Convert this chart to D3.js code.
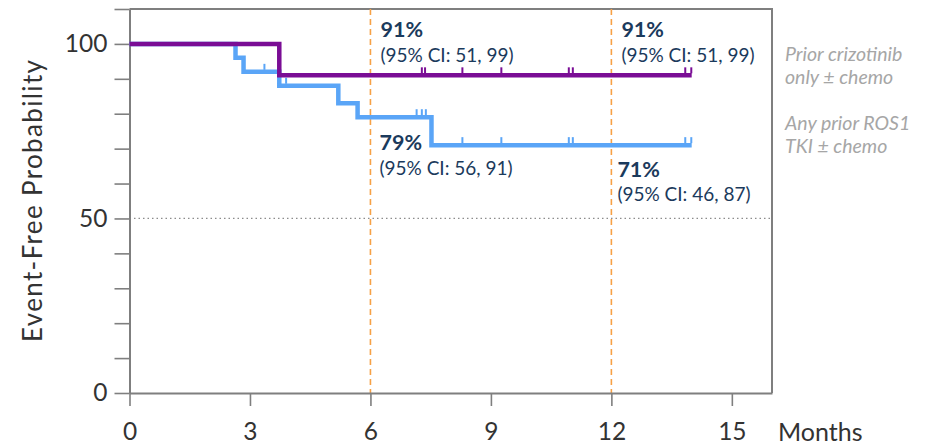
<!DOCTYPE html>
<html>
<head>
<meta charset="utf-8">
<script src="https://cdn.jsdelivr.net/npm/d3@7"></script>
<style>
  html, body { margin: 0; padding: 0; background: #fff; }
  svg { display: block; font-family: Lato, "Open Sans", sans-serif; }
</style>
</head>
<body>
<svg id="chart" width="935" height="447"></svg>
<script>
// Kaplan–Meier steps: [month, event-free %]
const crizotinibSteps = [[0, 100], [3.73, 91]];
const anyTkiSteps = [[0, 100], [2.64, 96], [2.84, 92], [3.73, 88], [5.2, 83], [5.68, 79], [7.52, 71]];
const followUpEnd = 14;

// Censoring marks (months)
const crizotinibCensors = [7.28, 7.36, 8.29, 9.26, 10.94, 11.04, 13.84, 13.99];
const anyTkiCensors = [3.36, 3.9, 7.15, 7.28, 7.38, 8.29, 9.26, 10.94, 11.04, 13.84, 13.99];

// Axis ticks
const xTicks = [0, 3, 6, 9, 12, 15];
const yMinorTicks = [0, 10, 20, 30, 40, 50, 60, 70, 80, 90, 100, 110];
const yLabelTicks = [0, 50, 100];
const landmarkMonths = [6, 12];

// Landmark estimates
const landmarkLabels = [
  { month: 6, series: "criz", pct: "91%", ci: "(95% CI: 51, 99)" },
  { month: 12, series: "criz", pct: "91%", ci: "(95% CI: 51, 99)" },
  { month: 6, series: "any", pct: "79%", ci: "(95% CI: 56, 91)" },
  { month: 12, series: "any", pct: "71%", ci: "(95% CI: 46, 87)" }
];
const legendCriz = ["Prior crizotinib", "only \u00b1 chemo"];
const legendAny = ["Any prior ROS1", "TKI \u00b1 chemo"];

const colors = { criz: "#7a0d95", any: "#5aa5f7", axis: "#7f7f7f", text: "#1b3a5c", orange: "#f7a146", legend: "#a6a6a6" };

const svg = d3.select("#chart");
const x = d3.scaleLinear().domain([0, 16]).range([129.5, 772]);
const y = d3.scaleLinear().domain([0, 110]).range([393, 9]);

// Frame (top and right)
svg.append("path")
  .attr("d", `M${x(0)},${y(110)}H${x(16)}V${y(0)}`)
  .attr("fill", "none").attr("stroke", colors.axis).attr("stroke-width", 2);

// 50% reference line
svg.append("line")
  .attr("x1", x(0)).attr("x2", x(16)).attr("y1", y(50)).attr("y2", y(50))
  .attr("stroke", "#8c8c8c").attr("stroke-width", 1.2).attr("stroke-dasharray", "1.5,3");

// Landmark verticals
svg.selectAll(".landmark").data(landmarkMonths).join("line")
  .attr("x1", d => x(d)).attr("x2", d => x(d))
  .attr("y1", y(110)).attr("y2", y(0))
  .attr("stroke", colors.orange).attr("stroke-width", 1.6).attr("stroke-dasharray", "6,4");

// Axes
const xAxis = svg.append("g").attr("transform", `translate(0,${y(0)})`)
  .call(d3.axisBottom(x).tickValues(xTicks).tickSize(13).tickSizeOuter(0).tickPadding(17));
const yAxis = svg.append("g").attr("transform", `translate(${x(0)},0)`)
  .call(d3.axisLeft(y).tickValues(yMinorTicks).tickSize(15).tickSizeOuter(0).tickPadding(7)
    .tickFormat(d => yLabelTicks.includes(d) ? d : ""));
[xAxis, yAxis].forEach(g => {
  g.select(".domain").attr("stroke", colors.axis).attr("stroke-width", 2);
  g.selectAll(".tick line").attr("stroke", colors.axis).attr("stroke-width", 1.6);
  g.selectAll(".tick text").attr("fill", "#333").attr("font-size", 24.5).attr("font-family", "Lato, sans-serif");
});
xAxis.selectAll(".tick text").attr("dy", "0.71em");

svg.append("text").attr("x", 778).attr("y", 441)
  .attr("font-size", 25).attr("fill", "#333").text("Months");

svg.append("text")
  .attr("transform", `translate(42,201) rotate(-90)`)
  .attr("text-anchor", "middle").attr("font-size", 26).attr("fill", "#333")
  .attr("textLength", 282).attr("lengthAdjust", "spacing")
  .text("Event-Free Probability");

// Curves
const stepLine = d3.line().x(d => x(d[0])).y(d => y(d[1])).curve(d3.curveStepAfter);
function curvePoints(steps) {
  return steps.concat([[followUpEnd, steps[steps.length - 1][1]]]);
}
function valueAt(steps, t) {
  let v = steps[0][1];
  steps.forEach(s => { if (s[0] <= t) v = s[1]; });
  return v;
}
function drawCurve(steps, censors, color) {
  svg.append("path").datum(curvePoints(steps))
    .attr("d", stepLine).attr("fill", "none")
    .attr("stroke", color).attr("stroke-width", 4.5).attr("stroke-linejoin", "miter");
  svg.append("g").selectAll("line").data(censors).join("line")
    .attr("x1", d => x(d)).attr("x2", d => x(d))
    .attr("y1", d => y(valueAt(steps, d)) - 2).attr("y2", d => y(valueAt(steps, d)) - 8)
    .attr("stroke", color).attr("stroke-width", 2);
}
drawCurve(anyTkiSteps, anyTkiCensors, colors.any);
drawCurve(crizotinibSteps, crizotinibCensors, colors.criz);

// Landmark annotations
const labelPos = {
  "criz-6": { dx: 10, py: 37, cy: 62 },
  "criz-12": { dx: 10, py: 37, cy: 62 },
  "any-6": { dx: 9, py: 150, cy: 175 },
  "any-12": { dx: 6, py: 177, cy: 201 }
};
landmarkLabels.forEach(l => {
  const p = labelPos[`${l.series}-${l.month}`];
  svg.append("text").attr("x", x(l.month) + p.dx).attr("y", p.py)
    .attr("font-size", 21.5).attr("font-weight", 700).attr("fill", colors.text).text(l.pct);
  svg.append("text").attr("x", x(l.month) + p.dx).attr("y", p.cy)
    .attr("font-size", 19).attr("fill", colors.text).text(l.ci);
});

// Legend
function legend(lines, top) {
  svg.append("g").selectAll("text").data(lines).join("text")
    .attr("x", 785).attr("y", (d, i) => top + i * 23)
    .attr("font-size", 19.5).attr("font-style", "italic").attr("fill", colors.legend)
    .text(d => d);
}
legend(legendCriz, 61);
legend(legendAny, 130);
</script>
</body>
</html>
